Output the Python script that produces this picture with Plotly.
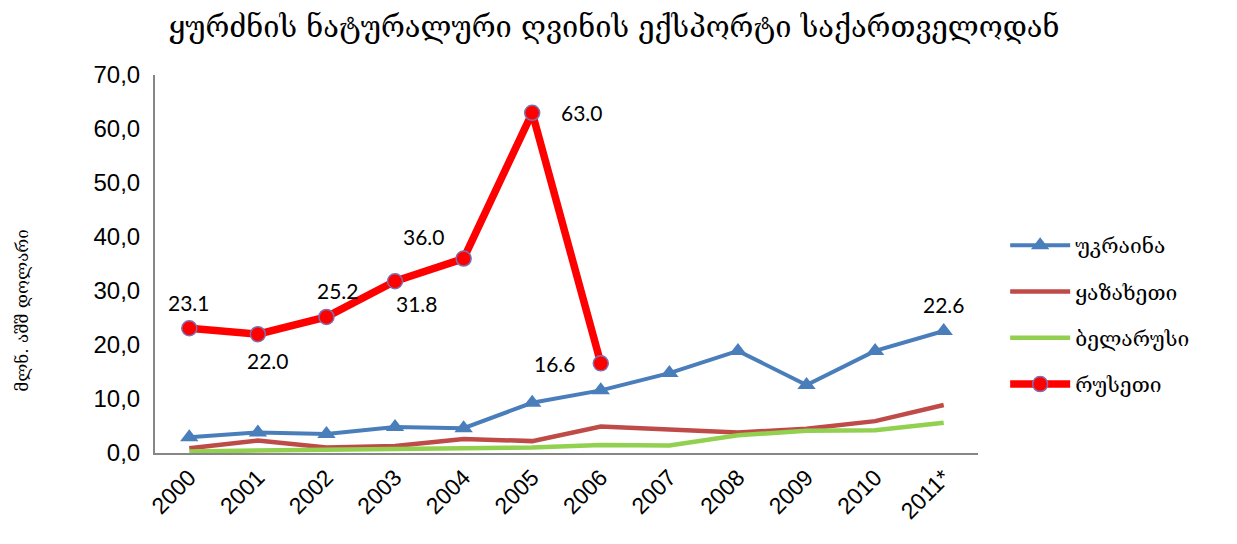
import plotly.graph_objects as go

years = ["2000", "2001", "2002", "2003", "2004", "2005", "2006", "2007", "2008", "2009", "2010", "2011*"]
ukraine = [2.9, 3.8, 3.5, 4.8, 4.6, 9.3, 11.6, 14.8, 18.9, 12.6, 18.9, 22.6]
kazakhstan = [0.9, 2.3, 1.0, 1.3, 2.6, 2.2, 4.9, 4.4, 3.8, 4.5, 5.9, 8.9]
belarus = [0.3, 0.5, 0.7, 0.7, 0.9, 1.0, 1.5, 1.4, 3.3, 4.1, 4.2, 5.6]
russia_years = years[:7]
russia = [23.1, 22.0, 25.2, 31.8, 36.0, 63.0, 16.6]

title = "ყურძნის ნატურალური ღვინის ექსპორტი საქართველოდან"
ytitle = "მლნ. აშშ დოლარი"
names = ["უკრაინა", "ყაზახეთი", "ბელარუსი", "რუსეთი"]

geo_font = "DejaVu Serif"

fig = go.Figure()
fig.add_trace(go.Scatter(x=years, y=ukraine, name=names[0], mode="lines+markers", legendgroup="a",
                         line=dict(color="#4a7ebb", width=4),
                         marker=dict(symbol="triangle-up", size=16, color="#4a7ebb")))
fig.add_trace(go.Scatter(x=years, y=kazakhstan, name=names[1], mode="lines", legendgroup="b",
                         line=dict(color="#be4b48", width=4.5)))
fig.add_trace(go.Scatter(x=years, y=belarus, name=names[2], mode="lines", legendgroup="c",
                         line=dict(color="#92d050", width=4.5)))
fig.add_trace(go.Scatter(x=russia_years, y=russia, name=names[3], mode="lines+markers", legendgroup="d",
                         line=dict(color="#ff0000", width=7.5),
                         marker=dict(symbol="circle", size=15, color="#ff0000",
                                     line=dict(color="#7f6fb0", width=1.5))))

# data label offsets (pixels) for Russia and last Ukraine point
offsets = [(0, 26), (10, -26), (12, 26), (22, -22), (-40, 22), (50, 0), (-46, 0)]
for i, ((dx, dy), yv) in enumerate(zip(offsets, russia)):
    fig.add_annotation(x=i, y=yv, xref="x", yref="y", text=f"{yv:.1f}", showarrow=False,
                       xshift=dx, yshift=dy, font=dict(family="Lato", size=21, color="black"))
fig.add_annotation(x=len(years) - 1, y=ukraine[-1], text=f"{ukraine[-1]:.1f}", showarrow=False,
                   xshift=0, yshift=26, font=dict(family="Lato", size=21, color="black"))

fig.add_annotation(text=ytitle, xref="paper", yref="paper", x=-0.162, y=0.378,
                   textangle=-90, showarrow=False, xanchor="center", yanchor="middle",
                   font=dict(family=geo_font, size=17, color="black"))

fig.update_layout(
    width=1237, height=544,
    margin=dict(l=147, r=267, t=67, b=99),
    paper_bgcolor="white", plot_bgcolor="white",
    title=dict(text=title, x=0.49, xanchor="center", y=0.965, yanchor="middle",
               font=dict(family=geo_font, size=29, color="black")),
    legend=dict(x=1.033, y=0.365, xanchor="left", yanchor="middle",
                font=dict(family=geo_font, size=21, color="black"),
                tracegroupgap=16, itemwidth=60, bgcolor="rgba(0,0,0,0)"),
    xaxis=dict(type="category", range=[-0.5, len(years) - 0.5], showline=True,
               linecolor="#868686", linewidth=2,
               showgrid=False, ticks="", tickangle=-45,
               tickfont=dict(family="Liberation Sans, Arial", size=23, color="black")),
    yaxis=dict(range=[0, 70], dtick=10, tickformat=".1f", showline=True,
               linecolor="#868686", linewidth=2, showgrid=False, ticks="", zeroline=False,
               ticklabelstandoff=8,
               tickfont=dict(family="Liberation Sans, Arial", size=24, color="black")),
    separators=",.",
)

fig.write_html("out.html")
